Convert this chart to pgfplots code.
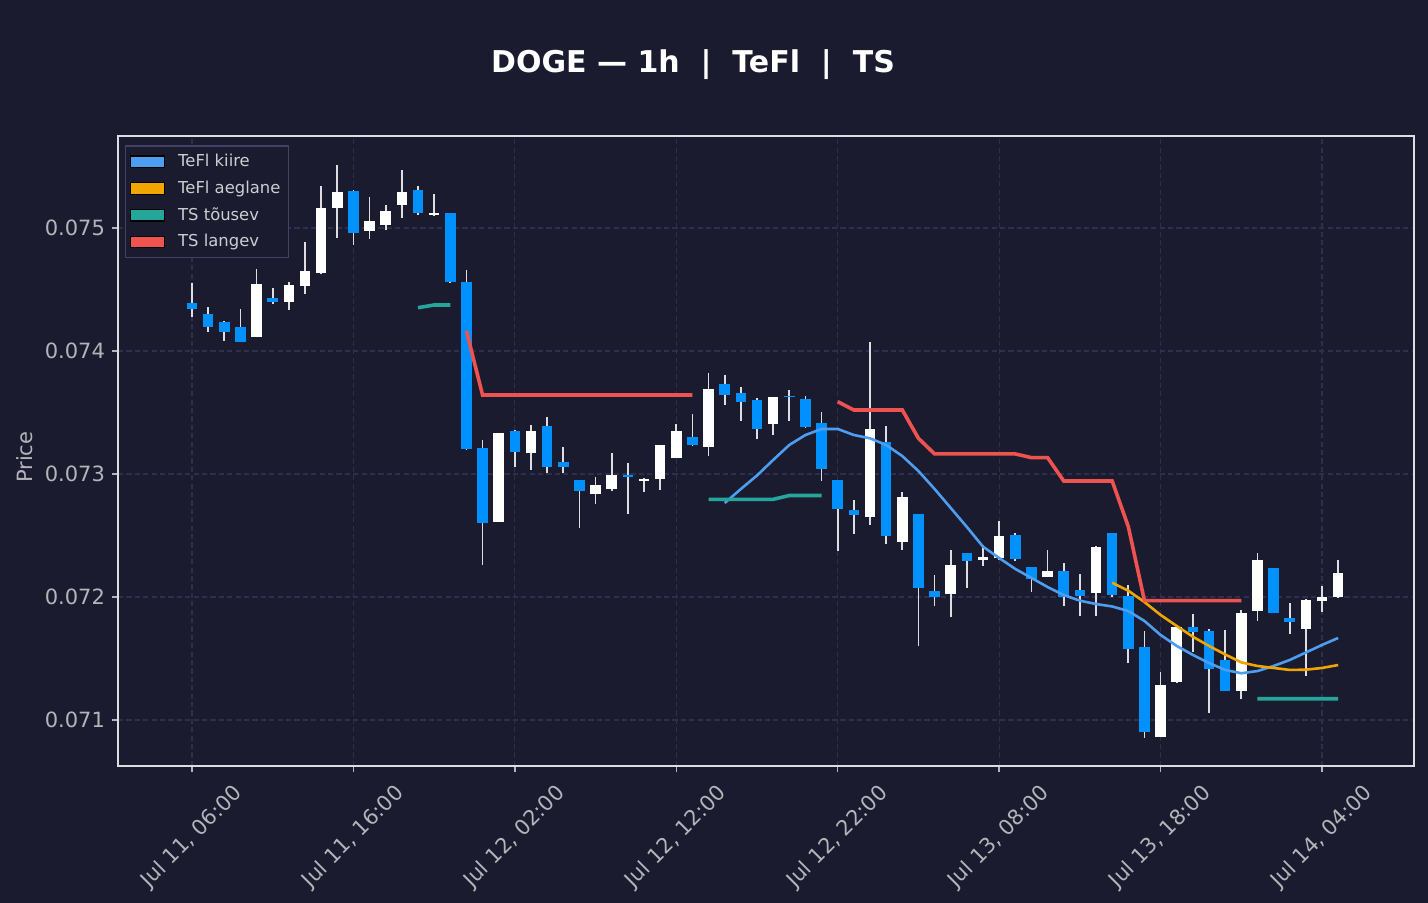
\documentclass[border=0pt]{standalone}
\usepackage{fontspec}
\setmainfont{DejaVu Sans}
\usepackage{pgfplots}
\usepackage{pgfplotstable}
\pgfplotsset{compat=1.18}

\definecolor{bg}{RGB}{26,27,46}
\definecolor{gridc}{RGB}{46,47,76}
\definecolor{framec}{RGB}{220,220,226}
\definecolor{tickc}{RGB}{180,180,186}
\definecolor{wickc}{RGB}{222,222,226}
\definecolor{downc}{RGB}{0,145,255}
\definecolor{kiire}{RGB}{77,157,240}
\definecolor{aeg}{RGB}{240,165,0}
\definecolor{tous}{RGB}{38,166,154}
\definecolor{lang}{RGB}{239,83,80}
\definecolor{legframe}{RGB}{66,66,100}
\definecolor{legtext}{RGB}{205,205,210}

% up candles (close > open)
\pgfplotstableread{
t o h l c
4 0.074116 0.074667 0.074110 0.074545
6 0.074396 0.074563 0.074333 0.074537
7 0.074531 0.074889 0.074463 0.074650
8 0.074632 0.075341 0.074625 0.075160
9 0.075160 0.075512 0.074921 0.075290
11 0.074978 0.075254 0.074911 0.075057
12 0.075027 0.075187 0.074984 0.075138
13 0.075187 0.075472 0.075084 0.075290
15 0.075103 0.075276 0.075098 0.075120
19 0.072612 0.073335 0.072608 0.073331
21 0.073168 0.073398 0.073033 0.073350
25 0.072835 0.072976 0.072754 0.072908
26 0.072881 0.073173 0.072864 0.072992
28 0.072943 0.072970 0.072856 0.072959
29 0.072959 0.073237 0.072870 0.073233
30 0.073133 0.073404 0.073128 0.073350
32 0.073222 0.073824 0.073149 0.073689
36 0.073404 0.073628 0.073317 0.073624
42 0.072653 0.074076 0.072585 0.073363
44 0.072445 0.072851 0.072382 0.072811
47 0.072022 0.072382 0.071840 0.072258
49 0.072298 0.072423 0.072252 0.072328
50 0.072320 0.072618 0.072301 0.072496
53 0.072165 0.072382 0.072160 0.072209
56 0.072035 0.072417 0.071848 0.072404
60 0.070864 0.071388 0.070860 0.071285
61 0.071311 0.071762 0.071298 0.071758
65 0.071238 0.071894 0.071168 0.071867
66 0.071889 0.072360 0.071807 0.072301
69 0.071742 0.071980 0.071360 0.071976
70 0.071965 0.072089 0.071880 0.071998
71 0.071998 0.072301 0.071994 0.072193
}\upc

% down candles (close < open)
\pgfplotstableread{
t o h l c
0 0.074388 0.074550 0.074279 0.074339
1 0.074301 0.074360 0.074157 0.074198
2 0.074233 0.074240 0.074084 0.074157
3 0.074193 0.074341 0.074070 0.074076
5 0.074428 0.074515 0.074382 0.074401
10 0.075298 0.075305 0.074862 0.074957
14 0.075309 0.075341 0.075106 0.075120
16 0.075120 0.075125 0.074555 0.074563
17 0.074563 0.074659 0.073195 0.073201
18 0.073209 0.073276 0.072260 0.072599
20 0.073350 0.073355 0.073059 0.073181
22 0.073390 0.073466 0.073011 0.073059
23 0.073095 0.073222 0.073006 0.073054
24 0.072951 0.072955 0.072563 0.072862
27 0.072992 0.073092 0.072675 0.072978
31 0.073303 0.073488 0.073230 0.073233
33 0.073729 0.073805 0.073561 0.073640
34 0.073656 0.073710 0.073433 0.073588
35 0.073599 0.073615 0.073282 0.073363
37 0.073634 0.073683 0.073433 0.073624
38 0.073607 0.073634 0.073375 0.073380
39 0.073412 0.073507 0.072946 0.073038
40 0.072951 0.072955 0.072376 0.072713
41 0.072705 0.072789 0.072512 0.072664
43 0.073258 0.073390 0.072431 0.072498
45 0.072672 0.072676 0.071602 0.072071
46 0.072051 0.072179 0.071927 0.071998
48 0.072355 0.072360 0.072076 0.072290
51 0.072504 0.072518 0.072295 0.072311
52 0.072241 0.072246 0.072043 0.072149
54 0.072211 0.072274 0.071929 0.072002
55 0.072054 0.072187 0.071848 0.072011
57 0.072518 0.072522 0.072002 0.072019
58 0.072011 0.072098 0.071461 0.071575
59 0.071591 0.071724 0.070856 0.070900
62 0.071754 0.071862 0.071555 0.071718
63 0.071724 0.071740 0.071054 0.071412
64 0.071488 0.071732 0.071234 0.071238
67 0.072233 0.072237 0.071868 0.071872
68 0.071827 0.071954 0.071699 0.071799
}\dnc

% indicator lines
\pgfplotstableread{
t kiire aeg tous lang
14 nan nan 0.074352 nan
15 nan nan 0.074374 nan
16 nan nan 0.074374 nan
17 nan nan nan 0.074163
18 nan nan nan 0.073642
19 nan nan nan 0.073642
20 nan nan nan 0.073642
21 nan nan nan 0.073642
22 nan nan nan 0.073642
23 nan nan nan 0.073642
24 nan nan nan 0.073642
25 nan nan nan 0.073642
26 nan nan nan 0.073642
27 nan nan nan 0.073642
28 nan nan nan 0.073642
29 nan nan nan 0.073642
30 nan nan nan 0.073642
31 nan nan nan 0.073642
32 nan nan 0.072794 nan
33 0.072764 nan 0.072794 nan
34 0.072878 nan 0.072794 nan
35 0.072988 nan 0.072794 nan
36 0.073114 nan 0.072794 nan
37 0.073236 nan 0.072825 nan
38 0.073317 nan 0.072825 nan
39 0.073366 nan 0.072825 nan
40 0.073366 nan nan 0.073588
41 0.073317 nan nan 0.073520
42 0.073290 nan nan 0.073520
43 0.073236 nan nan 0.073520
44 0.073146 nan nan 0.073520
45 0.073024 nan nan 0.073290
46 0.072878 nan nan 0.073163
47 0.072724 nan nan 0.073163
48 0.072569 nan nan 0.073163
49 0.072409 nan nan 0.073163
50 0.072317 nan nan 0.073163
51 0.072228 nan nan 0.073163
52 0.072155 nan nan 0.073133
53 0.072081 nan nan 0.073133
54 0.072016 nan nan 0.072943
55 0.071970 nan nan 0.072943
56 0.071943 nan nan 0.072943
57 0.071923 0.072116 nan 0.072943
58 0.071886 0.072051 nan 0.072572
59 0.071805 0.071959 nan 0.071970
60 0.071691 0.071854 nan 0.071970
61 0.071602 0.071764 nan 0.071970
62 0.071529 0.071677 nan 0.071970
63 0.071463 0.071602 nan 0.071970
64 0.071407 0.071533 nan 0.071970
65 0.071380 0.071468 nan 0.071970
66 0.071398 0.071439 0.071173 nan
67 0.071439 0.071423 0.071173 nan
68 0.071488 0.071407 0.071173 nan
69 0.071549 0.071409 0.071173 nan
70 0.071610 0.071423 0.071173 nan
71 0.071667 0.071447 0.071173 nan
}\lines

\begin{document}
\begin{tikzpicture}
\useasboundingbox (0,0) rectangle (714pt,451.5pt);
\fill[bg] (0,0) rectangle (714pt,451.5pt);
\node[font=\bfseries\fontsize{15}{18}\selectfont, text=white] at (346.5pt,419pt) {DOGE — 1h\ \ |\ \ TeFl\ \ |\ \ TS};
\begin{axis}[
  at={(59pt,68.5pt)}, anchor=south west,
  width=648pt, height=315pt, scale only axis,
  xmin=-4.584, xmax=75.698,
  ymin=0.070626, ymax=0.075748,
  axis background/.style={fill=bg},
  axis line style={draw=framec, line width=0.9pt},
  xtick={0,10,20,30,40,50,60,70},
  xticklabels={{Jul 11, 06:00},{Jul 11, 16:00},{Jul 12, 02:00},{Jul 12, 12:00},{Jul 12, 22:00},{Jul 13, 08:00},{Jul 13, 18:00},{Jul 14, 04:00}},
  ytick={0.071,0.072,0.073,0.074,0.075},
  yticklabels={0.071,0.072,0.073,0.074,0.075},
  scaled y ticks=false,
  tick align=outside, major tick length=3pt,
  tick style={draw=tickc, line width=0.7pt},
  xtick pos=bottom, ytick pos=left,
  ticklabel style={text=tickc, font=\fontsize{10.5}{12}\selectfont},
  xticklabel style={anchor=center, yshift=-32.5pt, rotate=45},
  grid=major,
  major grid style={draw=gridc, line width=0.6pt, dash pattern=on 2.6pt off 1.6pt},
  ylabel={Price},
  every axis y label/.style={at={(axis description cs:-0.0718,0.49)}, rotate=90, anchor=center,
    text=tickc, font=\fontsize{10.5}{12}\selectfont},
  unbounded coords=jump,
  legend style={at={(axis description cs:0.0056,0.985)}, anchor=north west,
    fill=bg, draw=legframe, line width=0.6pt, text=legtext,
    font=\fontsize{8.2}{10}\selectfont, row sep=1.6pt, column sep=4.5pt,
    inner xsep=2pt, inner ysep=2pt, cells={anchor=west}},
  legend cell align=left,
]
% wicks
\addplot[forget plot, draw=none, mark=none, error bars/.cd, y dir=plus, y explicit, error mark=none,
  error bar style={draw=wickc, line width=0.85pt}]
  table[x=t, y=l, y error expr=\thisrow{h}-\thisrow{l}] {\upc};
\addplot[forget plot, draw=none, mark=none, error bars/.cd, y dir=plus, y explicit, error mark=none,
  error bar style={draw=wickc, line width=0.85pt}]
  table[x=t, y=l, y error expr=\thisrow{h}-\thisrow{l}] {\dnc};
% bodies
\addplot[forget plot, draw=none, mark=none, error bars/.cd, y dir=plus, y explicit, error mark=none,
  error bar style={draw=white, line width=5.3pt}]
  table[x=t, y=o, y error expr=\thisrow{c}-\thisrow{o}] {\upc};
\addplot[forget plot, draw=none, mark=none, error bars/.cd, y dir=plus, y explicit, error mark=none,
  error bar style={draw=downc, line width=5.3pt}]
  table[x=t, y=c, y error expr=\thisrow{o}-\thisrow{c}] {\dnc};
% indicator lines
\addplot[forget plot, kiire, line width=1.3pt, mark=none] table[x=t, y=kiire] {\lines};
\addplot[forget plot, aeg, line width=1.3pt, mark=none] table[x=t, y=aeg] {\lines};
\addplot[forget plot, tous, line width=1.8pt, mark=none] table[x=t, y=tous] {\lines};
\addplot[forget plot, lang, line width=1.8pt, mark=none] table[x=t, y=lang] {\lines};
% legend
\addlegendimage{area legend, fill=kiire, draw=none}
\addlegendentry{TeFl kiire}
\addlegendimage{area legend, fill=aeg, draw=none}
\addlegendentry{TeFl aeglane}
\addlegendimage{area legend, fill=tous, draw=none}
\addlegendentry{TS tõusev}
\addlegendimage{area legend, fill=lang, draw=none}
\addlegendentry{TS langev}
\end{axis}
\end{tikzpicture}
\end{document}
